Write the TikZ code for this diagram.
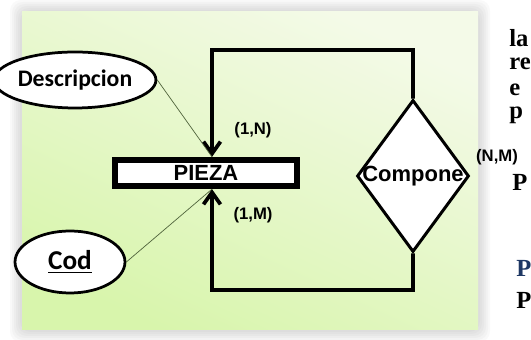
\documentclass[tikz,border=0pt]{standalone}
\usepackage{fontspec}
\usepackage{tikz}
\usetikzlibrary{arrows.meta, positioning, shapes.geometric}
\newfontfamily\arialfont{Liberation Sans}
\newfontfamily\calibrifont{Carlito}
\newfontfamily\timesfont{Liberation Serif}
\definecolor{panellight}{RGB}{244,250,232}
\definecolor{paneldark}{RGB}{216,245,172}
\definecolor{attrcolor}{RGB}{80,100,60}
\definecolor{textblue}{RGB}{31,56,100}

\begin{document}
\begin{tikzpicture}[
  x=0.02cm, y=-0.02cm,
  every node/.style={font=\arialfont\bfseries},
  entity/.style={draw, line width=1.25mm, fill=white, minimum width=3.64cm, minimum height=0.52cm, inner sep=0pt, font=\arialfont\bfseries\fontsize{12.5}{14}\selectfont},
  attr/.style={ellipse, draw, line width=0.55mm, fill=white, inner sep=0pt, font=\calibrifont\bfseries\fontsize{13.5}{16}\selectfont},
  rel/.style={diamond, draw, line width=0.6mm, fill=white, minimum width=2.24cm, minimum height=3.04cm, inner sep=0pt},
  card/.style={font=\arialfont\bfseries\fontsize{9.5}{11}\selectfont, inner sep=1pt},
  relline/.style={line width=0.75mm},
  arrow/.style={-{Straight Barb[length=2.4mm, width=3.4mm]}, line width=0.75mm},
  attrline/.style={draw=attrcolor, line width=0.4pt},
  fragment/.style={font=\timesfont\bfseries\fontsize{14}{16}\selectfont, anchor=west, inner sep=0pt}
]
  \useasboundingbox (0,0) rectangle (531,340);
  \clip (0,0) rectangle (531,340);

  % Fondo verde con sombra
  \foreach \d in {2,4,...,12}
    \fill[black, opacity=0.025, rounded corners=6pt] (22-\d,12-\d) rectangle (478+\d,330+\d);
  \shade[top color=panellight, bottom color=paneldark, shading angle=-25] (22,12) rectangle (478,330);

  % Entidad, relacion y atributos
  \node[entity] (pieza) at (206,173) {PIEZA};
  \node[rel] (compone) at (413,176) {};
  \node[font=\arialfont\bfseries\fontsize{12.5}{14}\selectfont] (componetext) at (compone) {Compone};
  \node[attr, minimum width=2.64cm, minimum height=1.12cm] (descripcion) at (75,80) {Descripcion};
  \node[attr, minimum width=2.2cm, minimum height=1.24cm, font=\calibrifont\bfseries\fontsize{15.5}{18}\selectfont] (cod) at (70,262) {\underline{Cod}};

  % Cardinalidades
  \node[card] (cardN) at (253,130) {(1,N)};
  \node[card] (cardM) at (253,215) {(1,M)};
  \node[card] (cardNM) at (497,157) {(N,M)};

  % Conectores
  \draw[relline, arrow] (compone.north) |- (212,50) -- ([xshift=0.12cm]pieza.north);
  \draw[relline, arrow] (compone.south) |- (212,290) -- ([xshift=0.12cm]pieza.south);
  \draw[attrline] (descripcion.east) -- ([xshift=0.12cm]pieza.north);
  \draw[attrline] (cod.east) -- ([xshift=0.12cm]pieza.south);

  % Texto cortado a la derecha
  \node[fragment] (fragla) at (509,38) {la};
  \node[fragment] (fragre) at (509,64) {re};
  \node[fragment] (frage) at (509,90) {e};
  \node[fragment] (fragp) at (509,115) {p};
  \node[fragment] (fragP) at (512,182) {P};
  \node[fragment, text=textblue] (fragPb) at (516,268) {P};
  \node[fragment] (fragPc) at (516,300) {P};
\end{tikzpicture}
\end{document}
